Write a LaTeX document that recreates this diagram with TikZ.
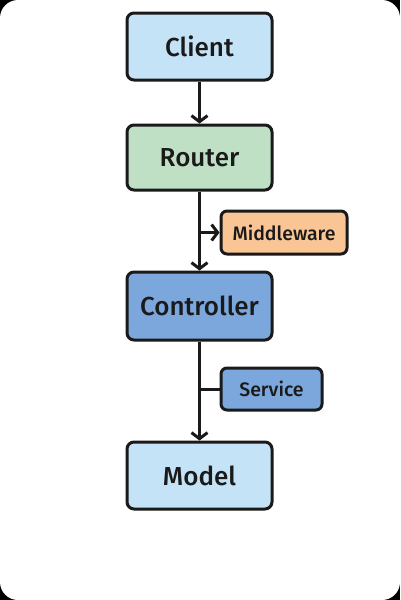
\documentclass[tikz,border=0pt]{standalone}
\usepackage{fontspec}
\setmainfont{Fira Sans Medium}
\usetikzlibrary{arrows.meta}
\definecolor{lblue}{HTML}{C5E3F6}
\definecolor{lgreen}{HTML}{BFE0C4}
\definecolor{lorange}{HTML}{F9C595}
\definecolor{mblue}{HTML}{7BA7DD}
\definecolor{ink}{HTML}{1A1A1A}
\tikzset{
  box/.style={draw=ink, line width=3pt, rounded corners=7pt, minimum width=145pt, font=\fontsize{26}{30}\selectfont, text=ink},
  smallbox/.style={draw=ink, line width=3pt, rounded corners=6pt, font=\fontsize{19.5}{22}\selectfont, text=ink},
  conn/.style={draw=ink, line width=3pt},
  arr/.style={conn, -{Straight Barb[length=6pt,width=16pt,line width=3pt]}}
}
\begin{document}
\begin{tikzpicture}[x=1pt,y=-1pt]
\fill[black] (0,0) rectangle (400,600);
\fill[white, rounded corners=18pt] (0,0) rectangle (400,600);
\useasboundingbox (0,0) rectangle (400,600);
\node[box, fill=lblue, minimum height=67pt] (client) at (199.5,46.5) {Client};
\node[box, fill=lgreen, minimum height=65pt] (router) at (199.5,157.5) {Router};
\node[smallbox, fill=lorange, minimum width=126pt, minimum height=43pt] (mw) at (284,232.5) {Middleware};
\node[box, fill=mblue, minimum height=68pt] (ctrl) at (199.5,306) {Controller};
\node[smallbox, fill=mblue, minimum width=101pt, minimum height=42pt] (svc) at (271.5,389) {Service};
\node[box, fill=lblue, minimum height=67pt] (model) at (199.5,475.5) {Model};
\draw[arr] (client) -- (router);
\draw[arr] (router) -- (ctrl);
\draw[arr] (router.south |- mw.west) -- (mw.west);
\draw[arr] (ctrl) -- (model);
\draw[conn] (ctrl.south |- svc.west) -- (svc.west);
\end{tikzpicture}
\end{document}
